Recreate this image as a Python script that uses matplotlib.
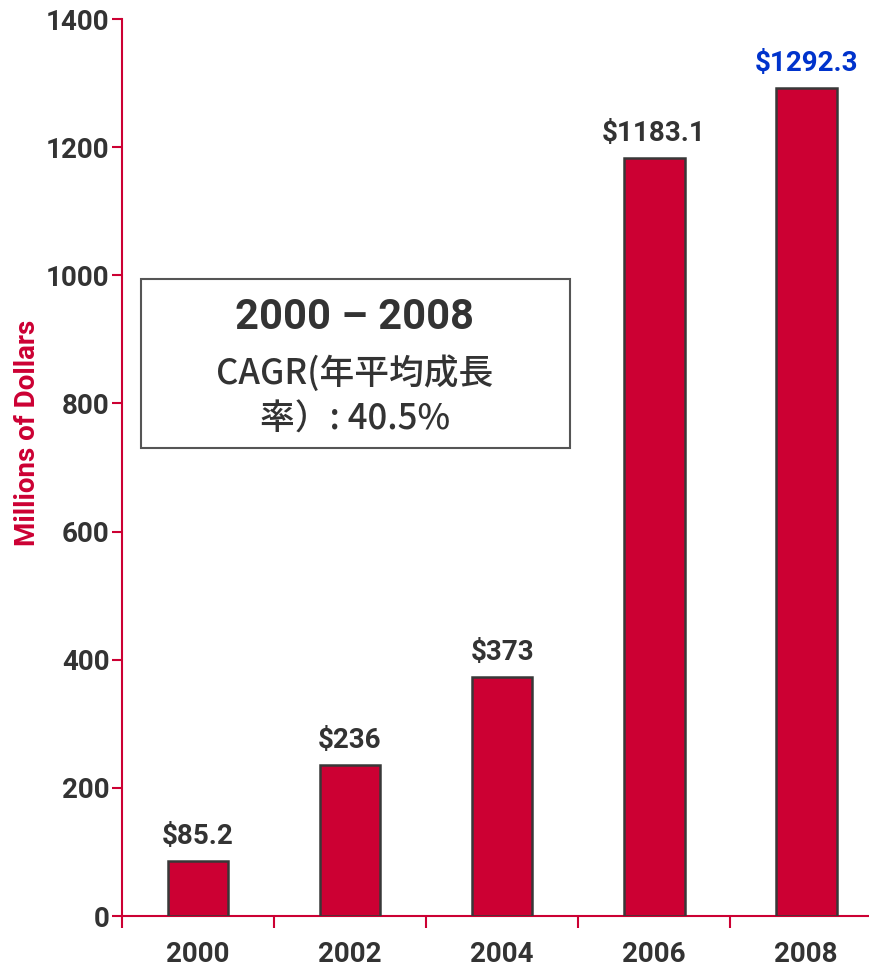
import matplotlib.pyplot as plt
from matplotlib.patches import Rectangle
from matplotlib.ticker import FixedLocator

# revenue by year, millions of dollars
years = ["2000", "2002", "2004", "2006", "2008"]
revenue = [85.2, 236, 373, 1183.1, 1292.3]
value_labels = ["$85.2", "$236", "$373", "$1183.1", "$1292.3"]
label_colors = ["#333333", "#333333", "#333333", "#333333", "#0033CC"]
yticks = [0, 200, 400, 600, 800, 1000, 1200, 1400]

red = "#CC0033"
dark = "#333333"

fig = plt.figure(figsize=(8.7, 9.67), dpi=100)
ax = fig.add_axes([0.1402, 0.0527, 0.8598, 0.9276])

x = list(range(len(years)))
ax.bar(x, revenue, width=0.4, color=red, edgecolor="#383838", linewidth=1.8, zorder=3)

for xi, v, lab, c in zip(x, revenue, value_labels, label_colors):
    ax.annotate(lab, (xi, v), xytext=(0, 8), textcoords="offset points",
                ha="center", va="bottom", fontsize=20, fontweight="bold",
                color=c, family="Roboto")

ax.set_xlim(-0.5, 4.42)
ax.set_ylim(0, 1400)

ax.spines["top"].set_visible(False)
ax.spines["right"].set_visible(False)
for s in ("left", "bottom"):
    ax.spines[s].set_color(red)
    ax.spines[s].set_linewidth(1.5)

ax.set_yticks(yticks)
ax.tick_params(axis="y", direction="out", length=7, width=1.5, color=red,
               pad=2, labelsize=20, labelcolor=dark)
ax.set_xticks(x)
ax.set_xticklabels(years)
ax.xaxis.set_minor_locator(FixedLocator([-0.5, 0.5, 1.5, 2.5, 3.5]))
ax.tick_params(axis="x", which="major", length=0, pad=18, labelsize=20, labelcolor=dark)
ax.tick_params(axis="x", which="minor", direction="out", length=8.6, width=1.5, color=red)
for t in ax.get_xticklabels() + ax.get_yticklabels():
    t.set_fontweight("bold")
    t.set_family("Roboto")

fig.text(28 / 870, 1 - 433 / 967, "Millions of Dollars", rotation=90,
         ha="center", va="center", fontsize=20, fontweight="bold",
         color=red, family="Roboto")

# CAGR callout box
ax.add_patch(Rectangle((0.0254, 0.522), 0.5736, 0.188, transform=ax.transAxes,
                       fill=False, edgecolor="#555555", linewidth=1.5, zorder=4))
ax.text(0.3115, 0.667, "2000 – 2008", transform=ax.transAxes, ha="center",
        va="center", fontsize=30, fontweight="bold", color=dark, family="Roboto")
ax.text(0.3115, 0.605, "CAGR(年平均成長", transform=ax.transAxes, ha="center",
        va="center", fontsize=25, fontweight="medium", color=dark,
        family=["Noto Sans CJK JP", "DejaVu Sans"])
ax.text(0.3115, 0.553, "率）: 40.5%", transform=ax.transAxes, ha="center",
        va="center", fontsize=25, fontweight="medium", color=dark,
        family=["Noto Sans CJK JP", "DejaVu Sans"])

fig.savefig("out.png", dpi=100)
